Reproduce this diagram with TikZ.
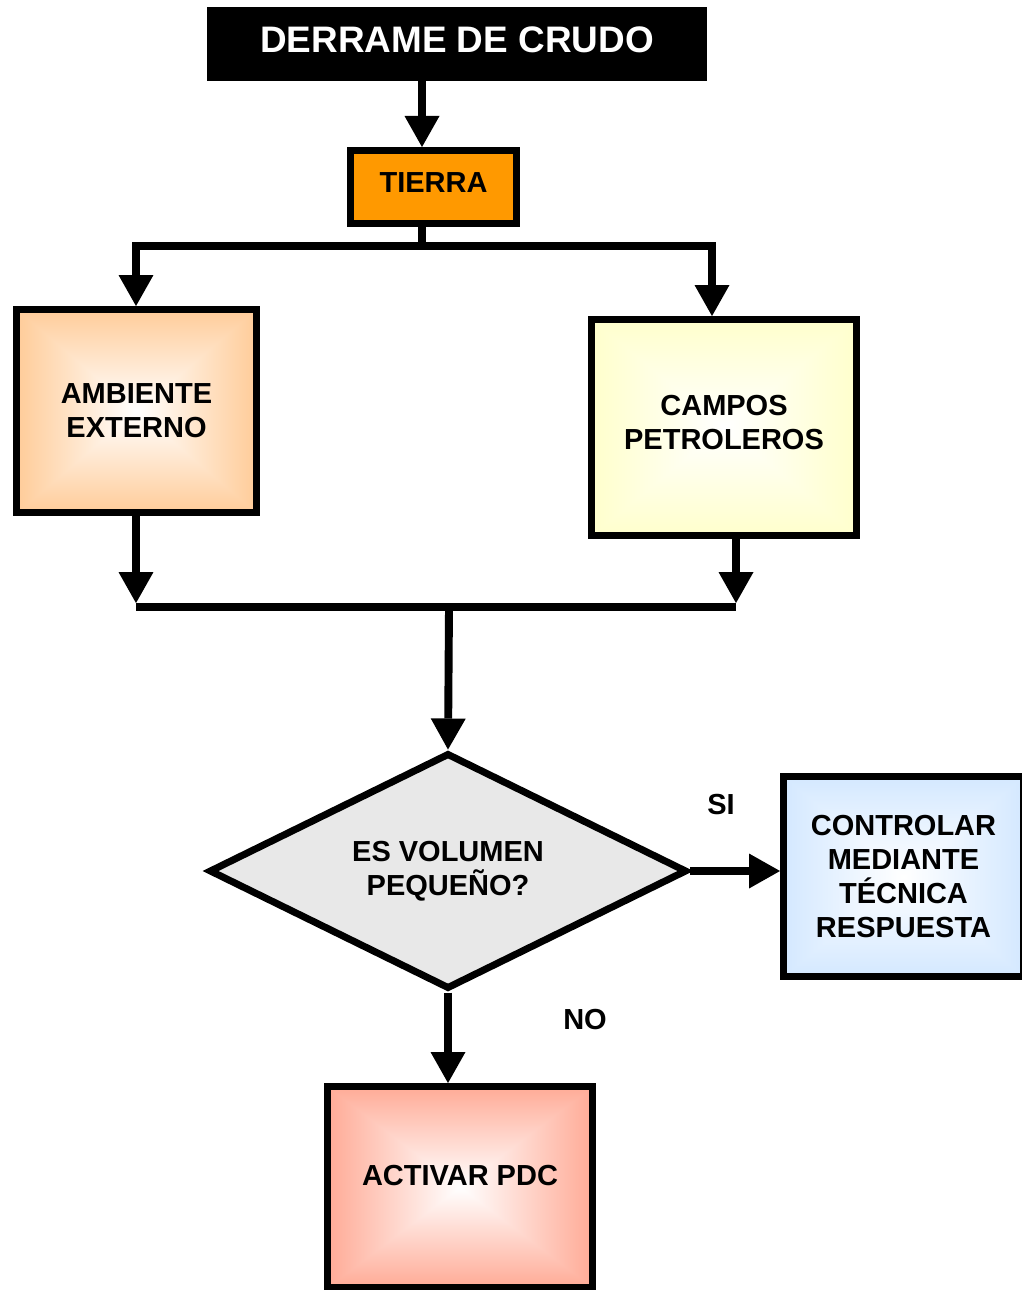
\documentclass[tikz,border=0pt]{standalone}
\usepackage{fontspec}
\setmainfont{Liberation Sans}
\usetikzlibrary{arrows.meta,shapes.geometric}
\definecolor{TierraOrange}{HTML}{FF9900}
\definecolor{DecisionGray}{HTML}{E8E8E8}

% box gradient: white in the middle, colour at the edges
\newcommand{\declareglow}[4]{%
  \pgfdeclarefunctionalshading{#1}{\pgfpoint{-50bp}{-50bp}}{\pgfpoint{50bp}{50bp}}{}{%
    abs exch abs 2 copy lt {exch} if pop
    25 div dup 1 gt {pop 1} if
    dup #2 mul 1 exch sub exch
    dup #3 mul 1 exch sub exch
    #4 mul 1 exch sub}}
\declareglow{glowpeach}{0}{0.2}{0.4}
\declareglow{glowyellow}{0}{0}{0.2}
\declareglow{glowblue}{0.17}{0.09}{0}
\declareglow{glowsalmon}{0}{0.33}{0.41}

\begin{document}
\begin{tikzpicture}[x=0.02cm, y=-0.02cm,
    caja/.style={draw, line width=4pt, align=center, inner sep=0pt,
      font=\fontsize{16.5}{19.5}\selectfont\bfseries},
    flecha/.style={line width=4.5pt, -{Triangle[width=0.7cm, length=0.62cm, line width=0pt]}},
    conector/.style={line width=4.5pt},
    etiqueta/.style={font=\fontsize{16.5}{19.5}\selectfont\bfseries}]
  \useasboundingbox (0,0) rectangle (1021,1290);

  % boxes
  \node[fill=black, text=white, minimum width=10cm, minimum height=1.48cm, text depth=0.16cm,
    font=\fontsize{21}{25}\selectfont\bfseries] (derrame) at (457,44) {DERRAME DE CRUDO};
  \node[caja, fill=TierraOrange, minimum width=3.32cm, minimum height=1.46cm, text depth=0.16cm] (tierra) at (433.5,187) {TIERRA};
  \node[caja, shade, shading=glowpeach, minimum width=4.8cm, minimum height=4.06cm] (ambiente) at (136.5,411) {AMBIENTE\\EXTERNO};
  \node[caja, shade, shading=glowyellow, minimum width=5.3cm, minimum height=4.32cm, text depth=0.2cm] (campos) at (724,427.5) {CAMPOS\\PETROLEROS};
  \node[caja, diamond, aspect=2, fill=DecisionGray, minimum width=9.56cm, minimum height=4.72cm, text depth=0.1cm] (decision) at (448,871) {ES VOLUMEN\\PEQUEÑO?};
  \node[caja, shade, shading=glowblue, minimum width=4.8cm, minimum height=4cm] (controlar) at (903.5,876.5) {CONTROLAR\\MEDIANTE\\TÉCNICA\\RESPUESTA};
  \node[caja, shade, shading=glowsalmon, minimum width=5.3cm, minimum height=4.02cm, text depth=0.48cm] (activar) at (460,1187) {ACTIVAR PDC};

  \node[etiqueta] (si) at (721,805) {SI};
  \node[etiqueta] (no) at (585,1020) {NO};

  % connectors
  \coordinate (bus) at (422,246);
  \coordinate (busL) at (136,246);
  \coordinate (busR) at (712,246);
  \coordinate (mrgL) at (136,607);
  \coordinate (mrgR) at (736,607);
  \coordinate (mrg) at (449,607);

  \draw[flecha] (derrame.south -| bus) -- (tierra.north -| bus);
  \draw[conector] (tierra.south -| bus) -- (bus);
  \draw[flecha] (bus) -- (busL) -- (ambiente.north -| busL);
  \draw[flecha] (bus) -- (busR) -- (campos.north -| busR);

  \draw[flecha, shorten >=2.25pt] (ambiente.south -| mrgL) -- (mrgL);
  \draw[flecha, shorten >=2.25pt] (campos.south -| mrgR) -- (mrgR);
  \draw[conector] (mrgL) -- (mrgR);
  \draw[flecha] (mrg) -- (decision.north);

  \draw[flecha] (decision.east) -- (decision.east -| controlar.west);
  \draw[flecha] (decision.south) -- (decision.south |- activar.north);
\end{tikzpicture}
\end{document}
